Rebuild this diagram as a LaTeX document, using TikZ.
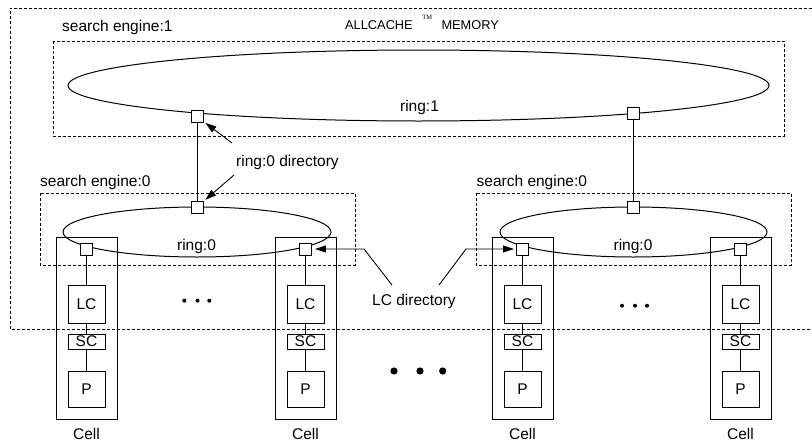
\documentclass[tikz,border=0pt]{standalone}
\usepackage{fontspec}
\setmainfont{Liberation Sans}
\newfontfamily\tmfont{Liberation Serif}
\usetikzlibrary{arrows.meta}
\begin{document}
\begin{tikzpicture}[x=1pt,y=-1pt,
  every node/.style={font=\fontsize{15.5}{18}\selectfont},
  dotbox/.style={draw, line width=0.9pt, dash pattern=on 3pt off 2pt},
  ring/.style={draw, line width=1pt},
  sq/.style={draw, fill=white, minimum size=12pt, inner sep=0pt, line width=0.9pt},
  cellbox/.style={draw, line width=1pt, minimum width=61pt, minimum height=182pt, inner sep=0pt},
  unit/.style={draw, fill=white, line width=1pt, minimum width=37pt, inner sep=0pt},
  link/.style={line width=0.9pt},
  arr/.style={-{Triangle[length=11pt,width=7pt]}, line width=0.9pt},
  lbl/.style={inner sep=0pt, anchor=base west},
  clbl/.style={inner sep=0pt, anchor=base}
]
\useasboundingbox (0,0) rectangle (812,442);

% outer memory box (open at right edge)
\draw[dotbox] (812,8) -- (10,8) -- (10,329) -- (812,329);
\node[lbl] (allc) at (345,29.3) {\fontsize{12.8}{15}\selectfont ALLCACHE\kern9.5pt\raisebox{10pt}{\tmfont\fontsize{6.5}{7}\selectfont TM}\kern9.5pt MEMORY};

% search engine boxes
\draw[dotbox] (53,41) rectangle (784,136);
\node[lbl] (se1) at (62,31.5) {search engine:1};
\draw[dotbox] (40,193) rectangle (355,265);
\node[lbl] (se0a) at (40,186) {search engine:0};
\draw[dotbox] (476,193) rectangle (791,265);
\node[lbl] (se0b) at (476.5,186) {search engine:0};

% rings
\draw[ring] (418.5,85.5) ellipse [x radius=350.5pt, y radius=35.5pt];
\node[clbl] (r1lbl) at (419.5,111.5) {ring:1};
\draw[ring] (197,232) ellipse [x radius=134pt, y radius=25pt];
\node[clbl] (r0lbla) at (196.5,250) {ring:0};
\draw[ring] (633.5,232) ellipse [x radius=133.5pt, y radius=25pt];
\node[clbl] (r0lblb) at (633,250) {ring:0};

% cells
\foreach \i/\x in {1/86.5, 2/305.5, 3/522.5, 4/740.5}{
  \node[cellbox] (cell\i) at (\x,328) {};
  \node[unit, minimum height=38pt] (lc\i) at (\x,304) {LC};
  \node[unit, minimum height=15pt] (sc\i) at (\x,341.5) {SC};
  \node[unit, minimum height=36pt] (p\i) at (\x,389) {P};
  \node[sq] (sq\i) at (\x,249) {};
  \draw[link] (sq\i) -- (lc\i);
  \draw[link] (lc\i) -- (sc\i);
  \draw[link] (sc\i) -- (p\i);
  \node[clbl] (celllbl\i) at (\x,439) {Cell};
}

% ring directory squares
\node[sq] (r1a) at (197,116.5) {};
\node[sq] (r1b) at (633,113) {};
\node[sq] (r0a) at (197,207) {};
\node[sq] (r0b) at (633,207) {};
\draw[link] (r1a) -- (r0a);
\draw[link] (r1b) -- (r0b);

% ring:0 directory label and arrows
\node[lbl] (rdir) at (236,166.5) {ring:0 directory};
\coordinate (rdt1) at (232,143);
\coordinate (rdt2) at (234,175);
\draw[arr, shorten >=2.5pt] (rdt1) -- (r1a);
\draw[arr, shorten >=2.5pt] (rdt2) -- (r0a);

% LC directory label and arrows
\node[lbl] (lcdir) at (372,305) {LC directory};
\coordinate (lct1) at (392,285);
\coordinate (lcb1) at (364,249);
\coordinate (lct2) at (439,285);
\coordinate (lcb2) at (466,249);
\draw[arr, shorten >=3pt] (lct1) -- (lcb1) -- (sq2);
\draw[arr, shorten >=2pt] (lct2) -- (lcb2) -- (sq3);

% ellipsis dots
\foreach \x in {184.3,197.5,209.3} \fill (\x,300.7) circle [radius=2pt];
\foreach \x in {622,635,647} \fill (\x,305.7) circle [radius=2pt];
\foreach \x in {394,420,442.7} \fill (\x,371) circle [radius=3.6pt];
\end{tikzpicture}
\end{document}
